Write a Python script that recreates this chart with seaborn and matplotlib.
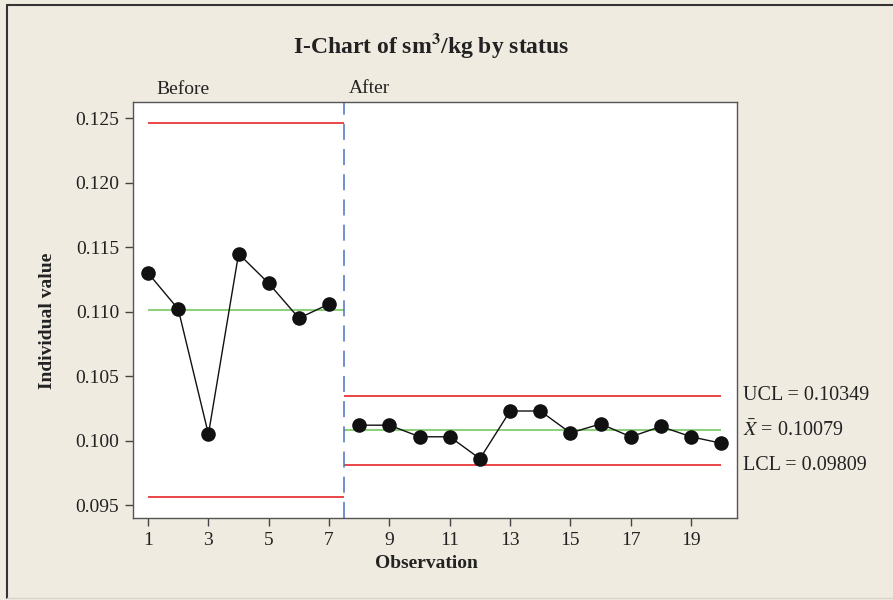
import numpy as np
import pandas as pd
import matplotlib
matplotlib.use("Agg")
import matplotlib.pyplot as plt
import seaborn as sns
from matplotlib.lines import Line2D

# ---- data ----
observations = list(range(1, 21))
values = [0.1130, 0.1102, 0.1005, 0.1145, 0.1122, 0.1095, 0.1106,
          0.1012, 0.1012, 0.1003, 0.1003, 0.0986, 0.1023, 0.1023,
          0.1006, 0.1013, 0.1003, 0.1011, 0.1003, 0.0998]
status = ["Before"] * 7 + ["After"] * 13
stage_names = ["Before", "After"]
stage_start = [1, 7.5]
stage_end = [7.5, 20]
ucl = [0.12463, 0.10349]
center = [0.11011, 0.10079]
lcl = [0.09565, 0.09809]
yticks = [0.095, 0.100, 0.105, 0.110, 0.115, 0.120, 0.125]
xticks = [1, 3, 5, 7, 9, 11, 13, 15, 17, 19]

df = pd.DataFrame({"Observation": observations, "value": values, "status": status})

sns.set_style("white")
plt.rcParams["font.family"] = ["Liberation Serif", "DejaVu Serif"]
plt.rcParams["mathtext.fontset"] = "stix"

W, H = 893, 600
fig = plt.figure(figsize=(W / 100, H / 100), dpi=100)
bg = "#f0ebe1"
fig.patch.set_facecolor(bg)

ax = fig.add_axes([133 / W, 1 - 518 / H, (737 - 133) / W, (518 - 102) / H])
ax.set_facecolor("white")

# limit lines
red = "#e8262a"
green = "#8fd17a"
for s0, s1, u, c, l in zip(stage_start, stage_end, ucl, center, lcl):
    ax.hlines([u, l], s0, s1, colors=red, linewidth=1.2, zorder=1)
    ax.hlines(c, s0, s1, colors=green, linewidth=1.5, zorder=1)

ax.axvline(7.5, color="#4a70c4", linestyle=(0, (10.5, 6)), linewidth=1.1, zorder=1)

# data (separate segment per stage)
sns.lineplot(data=df, x="Observation", y="value", units="status", estimator=None,
             ax=ax, color="#111111", linewidth=1.0, marker="o", markersize=10.5,
             markeredgewidth=0, markerfacecolor="#111111", zorder=3, legend=False)

ax.set_xlim(0.5, 20.52)
ax.set_ylim(0.0940, 0.12627)
ax.set_xticks(xticks)
ax.set_xticklabels([str(t) for t in xticks])
ax.set_yticks(yticks)
ax.set_yticklabels([f"{t:.3f}" for t in yticks])
ax.tick_params(axis="both", direction="out", length=6, width=1, color="#444444",
               labelsize=14, labelcolor="#222222", pad=4, bottom=True, left=True)
for sp in ax.spines.values():
    sp.set_color("#555555")
    sp.set_linewidth(1.0)
ax.set_xlabel("")
ax.set_ylabel("")

# stage labels
trans = matplotlib.transforms.blended_transform_factory(ax.transData, fig.transFigure)
ax.text(1.27, 1 - 90 / H, stage_names[0], transform=trans, ha="left", va="center",
        fontsize=14, color="#222222")
ax.text(7.66, 1 - 88 / H, stage_names[1], transform=trans, ha="left", va="center",
        fontsize=14, color="#222222")

# right labels
trans2 = matplotlib.transforms.blended_transform_factory(fig.transFigure, ax.transData)
ax.text(743 / W, ucl[1], f"UCL = {ucl[1]:.5f}", transform=trans2, ha="left", va="center",
        fontsize=14.5, color="#222222", clip_on=False)
ax.text(743 / W, center[1], r"$\bar{X}$" + f" = {center[1]:.5f}", transform=trans2,
        ha="left", va="center", fontsize=14.5, color="#222222", clip_on=False)
ax.text(743 / W, lcl[1], f"LCL = {lcl[1]:.5f}", transform=trans2, ha="left", va="center",
        fontsize=14.5, color="#222222", clip_on=False)

# titles
fig.text(431 / W, 1 - 46 / H, r"I-Chart of sm$^{\mathbf{3}}$/kg by status", ha="center",
         va="center", fontsize=17, fontweight="bold", color="#222222")
fig.text(48 / W, 1 - 321 / H, "Individual value", rotation=90, ha="center", va="center",
         fontsize=14, fontweight="bold", color="#222222")
fig.text(426 / W, 1 - 564 / H, "Observation", ha="center", va="center",
         fontsize=14, fontweight="bold", color="#222222")

# figure frame
fig.add_artist(Line2D([7 / W, 1], [1 - 5 / H, 1 - 5 / H], transform=fig.transFigure,
                      color="#333333", linewidth=1.5))
fig.add_artist(Line2D([7 / W, 7 / W], [1 - 5 / H, 1 - 598 / H], transform=fig.transFigure,
                      color="#333333", linewidth=1.5))
fig.add_artist(Line2D([7 / W, 1], [1 - 598 / H, 1 - 598 / H], transform=fig.transFigure,
                      color="#d8d4cc", linewidth=1.0))

fig.savefig("out.png", dpi=100, facecolor=bg)
